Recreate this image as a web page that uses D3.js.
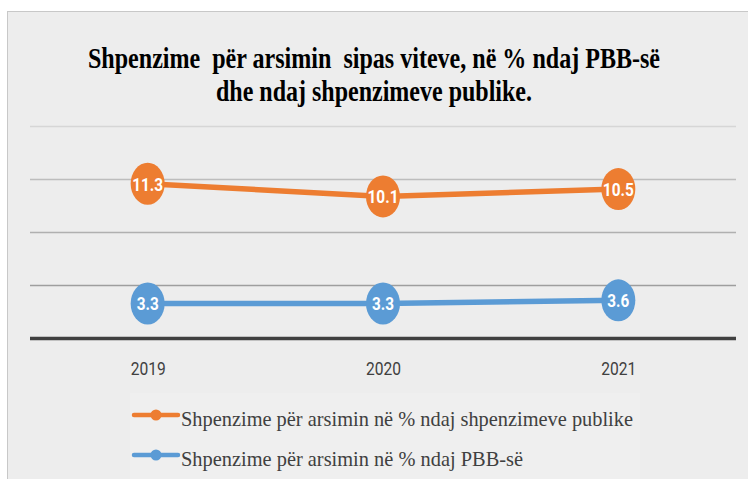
<html>
<head>
  <meta charset="utf-8">
  <title>Shpenzime per arsimin</title>
  <script src="https://d3js.org/d3.v7.min.js"></script>
  <style>
  body { margin: 0; background: #fff; }
  </style>
</head>
<body>
  <script>

var years = ['2019', '2020', '2021'];
var pbb = [3.3, 3.3, 3.6];        // % ndaj PBB-se
var publike = [11.3, 10.1, 10.5]; // % ndaj shpenzimeve publike
var yTicks = [0, 5, 10, 15, 20];
var seriesNames = ['Shpenzime për arsimin në % ndaj shpenzimeve publike',
                   'Shpenzime për arsimin në % ndaj PBB-së'];
var titleLines = ['Shpenzime  për arsimin  sipas viteve, në % ndaj PBB-së',
                  'dhe ndaj shpenzimeve publike.'];

var width = 748,
    height = 479;

var svg = d3.select('body')
  .append('svg')
  .attr('width', width)
  .attr('height', height);

// chart area frame
svg.append('rect')
  .attr('x', 7.5).attr('y', 11.5)
  .attr('width', width).attr('height', height)
  .attr('fill', '#ededed')
  .attr('stroke', '#c8c8c8');

// title
svg.selectAll('text.title')
  .data(titleLines)
  .enter()
  .append('text')
  .attr('class', 'title')
  .attr('x', 374)
  .attr('y', function(d, i) { return 68 + i * 33; })
  .attr('text-anchor', 'middle')
  .attr('textLength', function(d, i) { return i == 0 ? 572 : 316; })
  .attr('lengthAdjust', 'spacingAndGlyphs')
  .style('font-family', '"Liberation Serif", "DejaVu Serif", serif')
  .style('font-weight', 'bold')
  .style('font-size', '30px')
  .style('white-space', 'pre')
  .attr('fill', '#000')
  .text(function(d) { return d; });

var x = d3.scalePoint()
  .domain(years)
  .range([30, 736])
  .padding(0.5);

var y = d3.scaleLinear()
  .domain([0, 20])
  .range([338.5, 126.5]);

// gridlines
var gridColor = { 20: '#d6d6d6', 15: '#bdbdbd', 10: '#b0b0b0', 5: '#9e9e9e' };
svg.append('g').selectAll('line')
  .data(yTicks.filter(function(t) { return t > 0; }))
  .enter()
  .append('line')
  .attr('x1', 30).attr('x2', 736)
  .attr('y1', function(d) { return y(d); })
  .attr('y2', function(d) { return y(d); })
  .attr('stroke', function(d) { return gridColor[d]; })
  .attr('stroke-width', 1.3);

// x axis
var xAxis = svg.append('g')
  .attr('transform', 'translate(0,' + y(0) + ')')
  .call(d3.axisBottom(x).tickSize(0).tickPadding(22));
xAxis.select('.domain')
  .attr('d', 'M30,0H736')
  .attr('stroke', '#404040')
  .attr('stroke-width', 3.3);
xAxis.selectAll('text')
  .attr('dy', '0.35em')
  .attr('y', 29.5)
  .attr('textLength', 35)
  .attr('lengthAdjust', 'spacingAndGlyphs')
  .attr('fill', '#404040')
  .style('font-family', 'Roboto, "Noto Sans", sans-serif')
  .style('font-size', '19px');

// stacked line chart: PBB at the bottom, publike on top
var table = years.map(function(yr, i) {
  return { year: yr, pbb: pbb[i], publike: publike[i] };
});
var stack = d3.stack().keys(['pbb', 'publike']);
var stacked = stack(table);

var colors = { pbb: '#5b9bd5', publike: '#ed7d31' };

var line = d3.line()
  .x(function(d) { return x(d.data.year); })
  .y(function(d) { return y(d[1]); });

var series = svg.append('g').selectAll('g')
  .data(stacked)
  .enter()
  .append('g');

series.append('path')
  .attr('d', line)
  .attr('fill', 'none')
  .attr('stroke', function(s) { return colors[s.key]; })
  .attr('stroke-width', 5.5);

var pts = series.selectAll('g.pt')
  .data(function(s) { return s.map(function(d) { return { key: s.key, d: d }; }); })
  .enter()
  .append('g')
  .attr('class', 'pt')
  .attr('transform', function(p) {
    return 'translate(' + x(p.d.data.year) + ',' + y(p.d[1]) + ')';
  });

pts.append('ellipse')
  .attr('rx', 17)
  .attr('ry', 21)
  .attr('fill', function(p) { return colors[p.key]; });

function labelWidth(s) {
  var n = s.replace('.', '').length;
  return n * 9 + (s.indexOf('.') >= 0 ? 4 : 0);
}

pts.append('text')
  .attr('text-anchor', 'middle')
  .attr('dy', '0.36em')
  .attr('fill', '#fff')
  .style('font-family', 'Roboto, "Open Sans", sans-serif')
  .style('font-weight', 'bold')
  .style('font-size', '19px')
  .attr('textLength', function(p) { return labelWidth(p.d.data[p.key].toFixed(1)); })
  .attr('lengthAdjust', 'spacingAndGlyphs')
  .text(function(p) { return p.d.data[p.key].toFixed(1); });

// legend
var legend = svg.append('g');
legend.append('rect')
  .attr('x', 130).attr('y', 393)
  .attr('width', 510).attr('height', 90)
  .attr('fill', '#efefef');

var legendKeys = ['publike', 'pbb'];
var li = legend.selectAll('g.item')
  .data(legendKeys)
  .enter()
  .append('g')
  .attr('class', 'item')
  .attr('transform', function(d, i) { return 'translate(0,' + (415 + i * 40) + ')'; });

li.append('line')
  .attr('x1', 134).attr('x2', 178)
  .attr('stroke', function(d) { return colors[d]; })
  .attr('stroke-width', 4.5)
  .attr('stroke-linecap', 'round');
li.append('circle')
  .attr('cx', 156)
  .attr('r', 5.5)
  .attr('fill', function(d) { return colors[d]; });
li.append('text')
  .attr('x', 181)
  .attr('y', 10.5)
  .attr('textLength', function(d, i) { return i == 0 ? 452 : 342; })
  .attr('lengthAdjust', 'spacingAndGlyphs')
  .attr('fill', '#404040')
  .style('font-family', '"Liberation Serif", "Times New Roman", serif')
  .style('font-size', '21px')
  .text(function(d, i) { return seriesNames[i]; });

  </script>
</body>
</html>
